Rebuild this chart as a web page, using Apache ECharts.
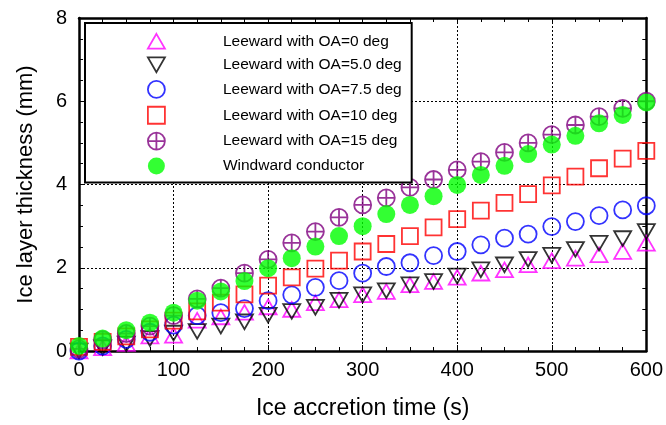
<!DOCTYPE html>
<html>
<head>
<meta charset="utf-8">
<script src="https://cdn.jsdelivr.net/npm/echarts@6/dist/echarts.min.js"></script>
<style>
  html, body { margin: 0; padding: 0; background: #fff; }
  #chart { width: 666px; height: 425px; }
</style>
</head>
<body>
<div id="chart"></div>
<script>
// ice accretion time (s)
var time = [0, 25, 50, 75, 100, 125, 150, 175, 200, 225, 250, 275, 300,
            325, 350, 375, 400, 425, 450, 475, 500, 525, 550, 575, 600];

// ice layer thickness (mm)
var oa0 = [0, 0.08, 0.18, 0.36, 0.38, 0.74, 0.82, 0.93, 1.06, 1.0, 1.16, 1.23, 1.35,
           1.43, 1.59, 1.67, 1.77, 1.87, 1.95, 2.07, 2.17, 2.23, 2.31, 2.39, 2.59];
var oa5 = [0, 0.08, 0.17, 0.3, 0.43, 0.47, 0.6, 0.7, 0.86, 0.95, 1.05, 1.22, 1.35,
           1.45, 1.59, 1.67, 1.8, 1.95, 2.07, 2.2, 2.3, 2.44, 2.59, 2.7, 2.87];
var oa75 = [0, 0.12, 0.28, 0.45, 0.62, 0.85, 0.92, 1.02, 1.21, 1.35, 1.53, 1.69, 1.87,
            2.03, 2.12, 2.29, 2.39, 2.55, 2.71, 2.81, 2.99, 3.11, 3.25, 3.39, 3.49];
var oa10 = [0.1, 0.22, 0.35, 0.52, 0.73, 0.95, 1.16, 1.36, 1.57, 1.77, 1.98, 2.17, 2.39,
            2.57, 2.76, 2.97, 3.17, 3.37, 3.56, 3.77, 3.98, 4.19, 4.39, 4.62, 4.81];
var oa15 = [0.05, 0.27, 0.42, 0.6, 0.85, 1.25, 1.51, 1.87, 2.2, 2.6, 2.87, 3.21, 3.51,
            3.68, 3.93, 4.12, 4.35, 4.55, 4.77, 5.0, 5.2, 5.43, 5.63, 5.83, 6.0];
var windward = [0.12, 0.3, 0.5, 0.68, 0.92, 1.21, 1.43, 1.68, 1.99, 2.23, 2.51, 2.76, 3.0,
                3.29, 3.51, 3.72, 3.99, 4.23, 4.45, 4.73, 4.96, 5.17, 5.47, 5.67, 5.97];

var names = ['Leeward with OA=0 deg', 'Leeward with OA=5.0 deg', 'Leeward with OA=7.5 deg',
             'Leeward with OA=10 deg', 'Leeward with OA=15 deg', 'Windward conductor'];

var FONT = 'Liberation Sans, Arial, sans-serif';

var upTri = 'path://M10,0 L20,17.32 L0,17.32 Z';
var downTri = 'path://M0,0 L20,0 L10,17.32 Z';
var square = 'path://M0,0 L20,0 L20,20 L0,20 Z';
var crossCircle = 'path://M10,0 A10,10 0 1,1 10,20 A10,10 0 1,1 10,0 Z M10,0 L10,20 M0,10 L20,10';

var marks = [
  { data: oa0, symbol: upTri, color: '#ff00ff', hollow: true, size: 17 },
  { data: oa5, symbol: downTri, color: '#000000', hollow: true, size: 17 },
  { data: oa75, symbol: 'circle', color: '#0000ff', hollow: true, size: 17 },
  { data: oa10, symbol: square, color: '#ff0000', hollow: true, size: 16 },
  { data: oa15, symbol: crossCircle, color: '#800080', hollow: true, size: 17 },
  { data: windward, symbol: 'circle', color: '#00ff00', hollow: false, size: 18 }
];

function styleOf(m) {
  return m.hollow
    ? { color: 'rgba(0,0,0,0)', borderColor: m.color, borderWidth: 1.8 }
    : { color: m.color, borderWidth: 0 };
}

var chart = echarts.init(document.getElementById('chart'));

var series = marks.map(function (m, i) {
  return {
    name: names[i],
    type: 'scatter',
    symbol: m.symbol,
    symbolSize: m.size,
    symbolKeepAspect: true,
    clip: false,
    itemStyle: styleOf(m),
    emphasis: { disabled: true },
    data: time.map(function (t, j) { return [t, m.data[j]]; })
  };
});

function frameAxis(pos, min, max, interval) {
  return {
    type: 'value', position: pos, min: min, max: max, interval: interval,
    axisLine: { show: true, onZero: false, lineStyle: { color: '#000', width: 2.5 } },
    axisTick: { show: true, inside: true, length: 6, lineStyle: { color: '#000', width: 1 } },
    minorTick: { show: true, splitNumber: 4, length: 4, lineStyle: { color: '#000', width: 1 } },
    axisLabel: { show: false },
    splitLine: { show: false }
  };
}

var xMain = frameAxis('bottom', 0, 600, 100);
xMain.axisLabel = { show: true, fontSize: 20, color: '#000', margin: 9, fontFamily: FONT };
xMain.splitLine = { show: true, lineStyle: { color: '#000', width: 1, type: [2, 2] } };
xMain.name = 'Ice accretion time (s)';
xMain.nameLocation = 'middle';
xMain.nameGap = 46;
xMain.nameTextStyle = { fontSize: 23, color: '#000', fontFamily: FONT };

var yMain = frameAxis('left', 0, 8, 2);
yMain.axisLabel = { show: true, fontSize: 20, color: '#000', margin: 12, fontFamily: FONT };
yMain.splitLine = { show: true, lineStyle: { color: '#000', width: 1, type: [2, 2] } };
yMain.name = 'Ice layer thickness (mm)';
yMain.nameLocation = 'middle';
yMain.nameGap = 42;
yMain.nameTextStyle = { fontSize: 22, color: '#000', fontFamily: FONT };

chart.setOption({
  animation: false,
  backgroundColor: '#fff',
  grid: { left: 79, right: 19, top: 18, bottom: 74 },
  legend: {
    orient: 'vertical',
    left: 85, top: 23,
    // big left padding pushes the icons to the middle of the box
    padding: [10, 10, 8, 62],
    itemWidth: 17, itemHeight: 17, itemGap: 7,
    backgroundColor: '#fff',
    borderColor: '#000', borderWidth: 2,
    selectedMode: false,
    textStyle: { fontSize: 15.5, color: '#000', fontFamily: FONT, padding: [0, 0, 0, 53] },
    data: marks.map(function (m, i) {
      return { name: names[i], icon: m.symbol, itemStyle: styleOf(m) };
    })
  },
  xAxis: [xMain, frameAxis('top', 0, 600, 100)],
  yAxis: [yMain, frameAxis('right', 0, 8, 2)],
  series: series
});
</script>
</body>
</html>
